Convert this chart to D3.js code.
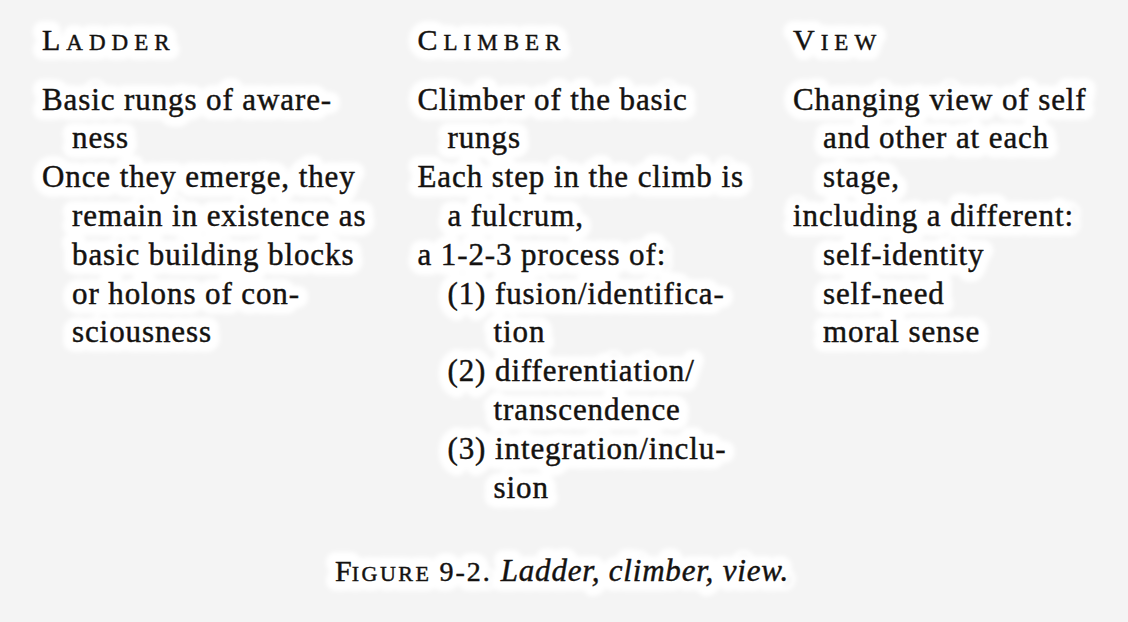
<!DOCTYPE html>
<html lang="en">
  <head>
    <meta charset="utf-8">
    <title>Figure 9-2</title>
    <script type="text/javascript" src="https://d3js.org/d3.v7.min.js"></script>
    <style>
      body { margin: 0; background: #f4f4f4; }
      text { font-family: "Liberation Serif", "DejaVu Serif", serif; fill: #141210; }
    </style>
  </head>
  <body>
    <script type="text/javascript">
    var w = 1128;
    var h = 622;

    var headers = ["Ladder", "Climber", "View"];
    // [indent level, text]
    var ladderLines = [
      [0, "Basic rungs of aware-"],
      [1, "ness"],
      [0, "Once they emerge, they"],
      [1, "remain in existence as"],
      [1, "basic building blocks"],
      [1, "or holons of con-"],
      [1, "sciousness"]
    ];
    var climberLines = [
      [0, "Climber of the basic"],
      [1, "rungs"],
      [0, "Each step in the climb is"],
      [1, "a fulcrum,"],
      [0, "a 1-2-3 process of:"],
      [1, "(1) fusion/identifica-"],
      [2, "tion"],
      [1, "(2) differentiation/"],
      [2, "transcendence"],
      [1, "(3) integration/inclu-"],
      [2, "sion"]
    ];
    var viewLines = [
      [0, "Changing view of self"],
      [1, "and other at each"],
      [1, "stage,"],
      [0, "including a different:"],
      [1, "self-identity"],
      [1, "self-need"],
      [1, "moral sense"]
    ];
    var captionLabel = "Figure 9-2.";
    var captionText = "Ladder, climber, view.";

    var columns = [ladderLines, climberLines, viewLines];

    var xcol = d3.scalePoint().domain(headers).range([42, 793]);
    var yline = d3.scaleLinear().domain([0, 10]).range([109.5, 497.5]);
    var indent = [0, 30, 76];

    var svg = d3.select("body").append("svg").attr("width", w).attr("height", h);

    var defs = svg.append("defs");
    defs.append("filter").attr("id", "glow")
      .attr("x", "-10%").attr("y", "-50%").attr("width", "120%").attr("height", "200%")
      .append("feGaussianBlur").attr("stdDeviation", 2);

    var halo = svg.append("g").attr("filter", "url(#glow)");
    var ink = svg.append("g");

    // small caps header: big first letter, smaller rest
    function smallCaps(t, word, big, small, ls) {
      t.append("tspan").attr("font-size", big).text(word[0].toUpperCase());
      t.append("tspan").attr("font-size", small).attr("dx", ls)
        .attr("letter-spacing", ls).text(word.slice(1).toUpperCase());
    }

    function drawAll(layer, isHalo) {
      headers.forEach(function(name) {
        var t = layer.append("text").attr("x", xcol(name)).attr("y", 50);
        smallCaps(t, name, 30, 23, 6);
        if (isHalo) styleHalo(t); else styleInk(t);
      });

      columns.forEach(function(lines, ci) {
        layer.append("g").selectAll("text")
          .data(lines)
          .enter()
          .append("text")
          .attr("x", function(d) { return xcol(headers[ci]) + indent[d[0]]; })
          .attr("y", function(d, i) { return yline(i); })
          .attr("font-size", 31)
          .attr("letter-spacing", 0.9)
          .text(function(d) { return d[1]; })
          .call(function(s) { if (isHalo) styleHalo(s); else styleInk(s); });
      });

      var cap = layer.append("text").attr("x", 562).attr("y", 581)
        .attr("text-anchor", "middle");
      var words = captionLabel.split(" ");
      cap.append("tspan").attr("font-size", 30).text(words[0][0]);
      cap.append("tspan").attr("font-size", 22).attr("letter-spacing", 2.5)
        .text(words[0].slice(1).toUpperCase() + " ");
      cap.append("tspan").attr("font-size", 28).attr("letter-spacing", 2).text(words[1] + " ");
      cap.append("tspan").attr("font-size", 31).attr("font-style", "italic")
        .attr("letter-spacing", 0.8).text(captionText);
      if (isHalo) styleHalo(cap); else styleInk(cap);
    }

    function styleHalo(s) {
      s.style("fill", "#fff").attr("stroke", "#fff").attr("stroke-width", 20)
        .attr("stroke-linejoin", "round");
    }
    function styleInk(s) {
      s.attr("stroke", "#141210").attr("stroke-width", 0.45);
    }

    drawAll(halo, true);
    drawAll(ink, false);
    </script>
  </body>
</html>
